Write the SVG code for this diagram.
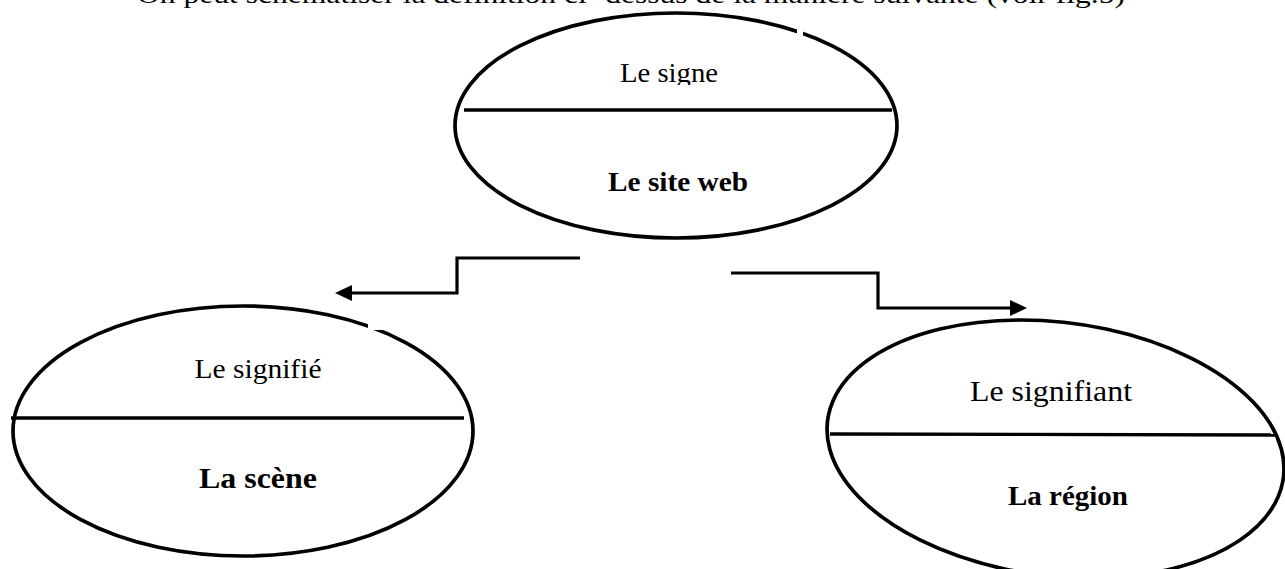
<svg xmlns="http://www.w3.org/2000/svg" width="1285" height="569" viewBox="0 0 1285 569">
<style>
.shape{fill:none;stroke:#000;stroke-width:3.7}
.bar{stroke:#000;stroke-width:3.4}
.t{font-family:"Liberation Serif","Times New Roman",serif;fill:#000}
.b{font-weight:bold}
.conn{fill:none;stroke:#000;stroke-width:3.2}
.mask{fill:#fff;stroke:none}
</style>
<defs>
<clipPath id="clipSigne"><rect x="560" y="40" width="220" height="45"/></clipPath>
</defs>
<rect width="1285" height="569" fill="#fff"/>
<text class="t" x="137" y="3" font-size="26" textLength="988" lengthAdjust="spacingAndGlyphs">On peut schématiser la définition ci- dessus de la manière suivante (voir fig.5)</text>
<g id="node-signe">
<ellipse class="shape" cx="676" cy="125.5" rx="221" ry="112.5"/>
<rect class="mask" x="797" y="26" width="6" height="12"/>
<line class="bar" x1="464" y1="110" x2="892" y2="110"/>
<text class="t" x="669" y="82" font-size="28" text-anchor="middle" textLength="98" lengthAdjust="spacingAndGlyphs" clip-path="url(#clipSigne)">Le signe</text>
<text class="t b" x="678" y="191" font-size="28" text-anchor="middle" textLength="140" lengthAdjust="spacingAndGlyphs">Le site web</text>
</g>
<g id="node-signifie">
<ellipse class="shape" cx="243" cy="431" rx="230" ry="125"/>
<rect class="mask" x="368" y="316" width="18" height="14"/>
<line class="bar" x1="11" y1="418" x2="464" y2="418"/>
<text class="t" x="258" y="378" font-size="28" text-anchor="middle" textLength="127" lengthAdjust="spacingAndGlyphs">Le signifié</text>
<text class="t b" x="258" y="488" font-size="30" text-anchor="middle" textLength="118" lengthAdjust="spacingAndGlyphs">La scène</text>
</g>
<g id="node-signifiant">
<ellipse class="shape" cx="0" cy="0" rx="225.8" ry="129" transform="translate(1055.5 449) skewX(15.1)" vector-effect="non-scaling-stroke"/>
<line class="bar" x1="830" y1="434" x2="1275" y2="435"/>
<text class="t" x="1051" y="401" font-size="29" text-anchor="middle" textLength="162" lengthAdjust="spacingAndGlyphs">Le signifiant</text>
<text class="t b" x="1068" y="505" font-size="28" text-anchor="middle" textLength="120" lengthAdjust="spacingAndGlyphs">La région</text>
</g>
<g id="connectors">
<polyline class="conn" points="580,258 457,258 457,293 349,293"/>
<polygon points="335,293 352,285 352,301" fill="#000"/>
<polyline class="conn" points="731,273 878,273 878,308 1013,308"/>
<polygon points="1027,308 1010,300 1010,316" fill="#000"/>
</g>
</svg>
